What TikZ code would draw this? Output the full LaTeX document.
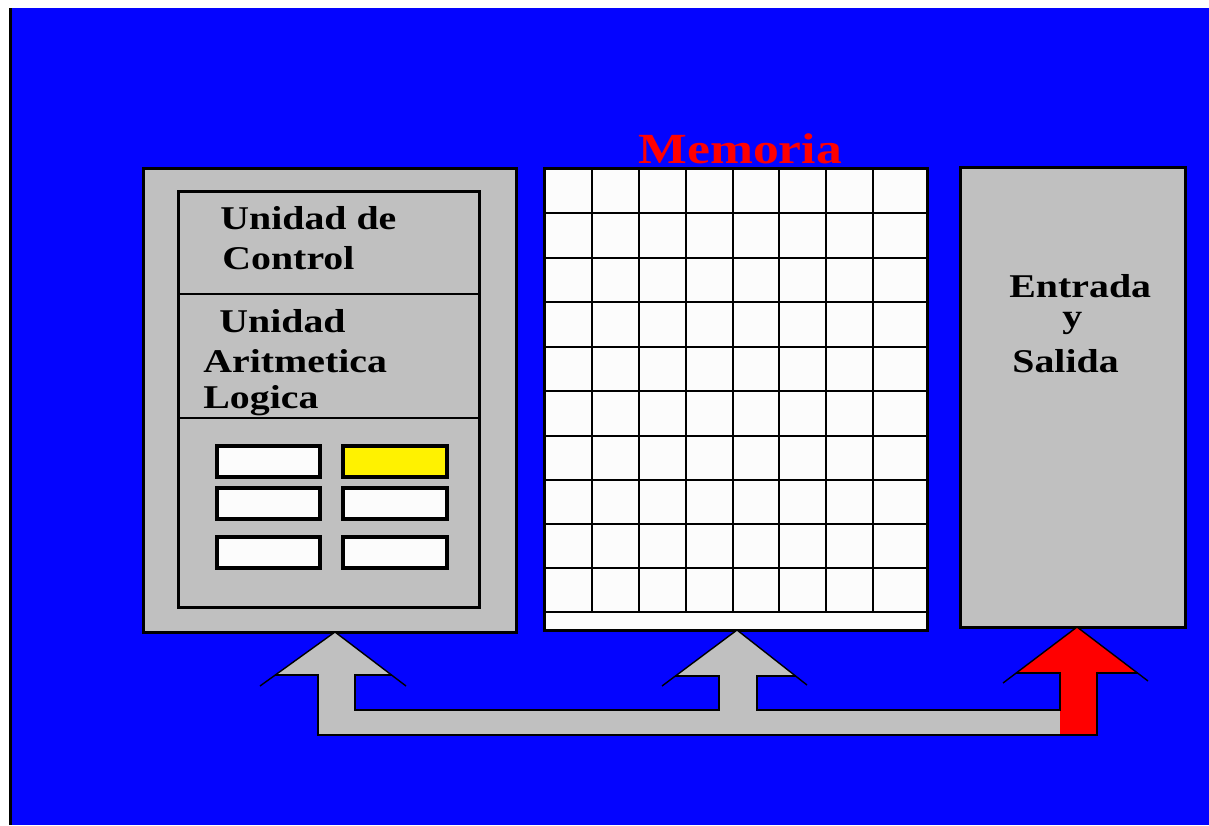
\documentclass[tikz,border=0pt]{standalone}
\usepackage{fontspec}
\setmainfont{Liberation Serif}
\newfontfamily\blockfont[FakeStretch=1.2]{Liberation Serif}
\usepackage{xcolor}
\definecolor{screenblue}{HTML}{0404FF}
\definecolor{panelgray}{HTML}{C0C0C0}
\definecolor{cellwhite}{HTML}{FCFCFC}
\usetikzlibrary{positioning}

\begin{document}
\begin{tikzpicture}[
        x=0.5pt, y=-0.5pt,
        panel/.style={draw=black, line width=1.5pt, fill=panelgray},
        frame/.style={draw=black, line width=1.5pt},
        divider/.style={draw=black, line width=1.2pt},
        reg/.style={draw=black, line width=1.75pt, fill=cellwhite},
        gridline/.style={draw=black, line width=1.1pt},
        busline/.style={draw=black, line width=1pt},
        headline/.style={draw=black, line width=0.7pt},
        unittext/.style={anchor=base west, inner sep=0pt,
            font=\blockfont\bfseries\fontsize{16.6}{20}\selectfont}
    ]

    % Background
    \useasboundingbox (0,0) rectangle (1209,825);
    \fill[white] (0,0) rectangle (1209,825);
    \fill[screenblue] (12,8) rectangle (1209,825);
    \fill[black] (9,8) rectangle (12,825);

    % CPU block
    \draw[panel] (143,168) rectangle (516,632);
    \draw[frame] (178,191) rectangle (479,607);
    \draw[divider] (178,294) -- (479,294);
    \draw[divider] (178,418) -- (479,418);
    \node[unittext] (cu1) at (220,229) {Unidad de};
    \node[unittext] (cu2) at (222,269) {Control};
    \node[unittext] (alu1) at (219,332) {Unidad};
    \node[unittext] (alu2) at (203,372) {Aritmetica};
    \node[unittext] (alu3) at (203,408) {Logica};

    % Registers
    \foreach \y in {446,488,537} {
        \draw[reg] (217,\y) rectangle (320,\y+31);
        \draw[reg] (343,\y) rectangle (447,\y+31);
    }
    \draw[reg, fill=yellow] (343,446) rectangle (447,477);

    % Memory
    \node[unittext, font=\blockfont\bfseries\fontsize{21.5}{24}\selectfont, text=red] (memtitle) at (638,163) {Memoria};
    \fill[cellwhite] (544,168) rectangle (927,630);
    \foreach \x in {592,639,686,733,779,826,873}
        \draw[gridline] (\x,168) -- (\x,612);
    \foreach \y in {213,258,302,347,391,436,480,524,568,612}
        \draw[gridline] (544,\y) -- (927,\y);
    \draw[frame] (544,168) rectangle (927,630);

    % Input / output
    \draw[panel] (960,167) rectangle (1185,627);
    \node[unittext] (io1) at (1009,297) {Entrada};
    \node[unittext] (io2) at (1062,327) {y};
    \node[unittext] (io3) at (1012,372) {Salida};

    % Bus
    \fill[panelgray] (318,735) -- (318,675) -- (275,675) -- (335,632) -- (391.5,675)
        -- (355,675) -- (355,710) -- (719,710) -- (719,676) -- (675.4,676)
        -- (737,630) -- (795.5,676) -- (757,676) -- (757,710) -- (1060,710)
        -- (1060,735) -- cycle;
    \fill[red] (1060,735) -- (1060,673) -- (1016,673) -- (1077,627)
        -- (1137.5,673) -- (1097,673) -- (1097,735) -- cycle;
    \draw[busline] (275,675) -- (318,675) -- (318,735) -- (1097,735) -- (1097,673) -- (1137.5,673);
    \draw[busline] (391.5,675) -- (355,675) -- (355,710) -- (719,710) -- (719,676) -- (675.4,676);
    \draw[busline] (795.5,676) -- (757,676) -- (757,710) -- (1060,710) -- (1060,673) -- (1016,673);
    \draw[headline] (260,686) -- (335,632) -- (406,686);
    \draw[headline] (662,686) -- (737,630) -- (807,685);
    \draw[headline] (1003,683) -- (1077,627) -- (1148,681);

\end{tikzpicture}
\end{document}
